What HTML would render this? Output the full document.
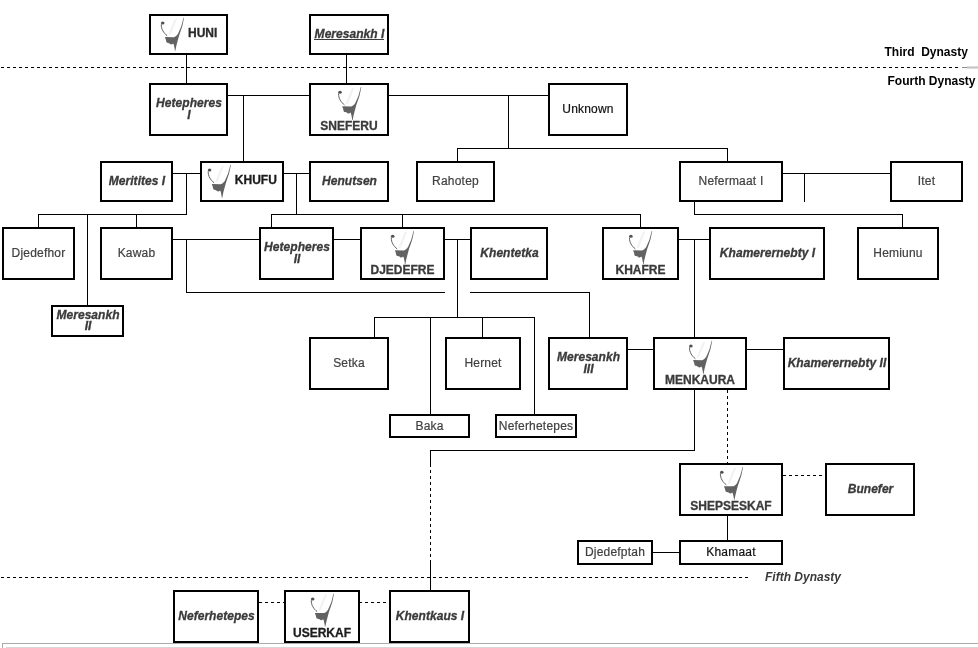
<!DOCTYPE html>
<html><head><meta charset="utf-8"><title>Fourth Dynasty family tree</title>
<style>
html,body{margin:0;padding:0;background:#fff;width:978px;height:648px;overflow:hidden}
svg{display:block;font-family:"Liberation Sans",sans-serif;will-change:transform}
</style></head><body>
<svg width="978" height="648" viewBox="0 0 978 648" font-family="Liberation Sans, sans-serif" font-size="12">
<defs><symbol id="ic" viewBox="0 0 32 38" overflow="visible">
<path d="M19.6,4.6 L22.4,3.6 L16,19.8 L13.4,20 Z" fill="#f2f2f2"/>
<path d="M6.5,9.5 C6.3,14.5 9,18.3 12.4,21" fill="none" stroke="#505050" stroke-width="0.9"/>
<ellipse cx="7.9" cy="8.3" rx="1.8" ry="1.5" fill="#505050"/>
<path d="M10.1,22.3 L19.1,22.4 C20.6,22 22,21 23.2,19 L26.4,11.7 L28.7,3.0 L29.2,3.2 L27.4,11.7 L25.6,17 L24.2,21.1 L22.8,26.2 L21.5,31.3 L20.6,35.9 L20.1,35.9 L19.8,33.7 L19.1,30.3 L18.4,28.6 L17.7,29.1 L16.7,29.6 L15.7,29.4 L14.7,28.6 L13,28 L12.1,27.9 L11.6,27.2 L11,24.8 Z" fill="#626262"/>
</symbol>
<linearGradient id="fade" x1="0" x2="1" y1="0" y2="0"><stop offset="0" stop-color="#888" stop-opacity="0"/><stop offset="0.5" stop-color="#999"/><stop offset="1" stop-color="#ccc"/></linearGradient>
</defs>
<style>.b{fill:#fff;stroke:#000;stroke-width:2}</style>
<path d="M186.5,55V83 M346.5,55V83 M228,95.5H309 M389,95.5H548 M243.5,95V161 M508.5,95V148 M457,148.5H728 M457.5,148V161 M727.5,148V161 M173,173.5H200 M186.5,173V215 M38,214.5H187 M38.5,214V227 M87.5,214V305 M136.5,214V227 M284,173.5H309 M296.5,173V215 M271,214.5H641 M271.5,214V227 M402.5,214V227 M640.5,214V227 M173,239.5H259 M186.5,239V293 M186,292.5H445 M470,292.5H590 M589.5,292V337 M334,239.5H360 M445,239.5H470 M457.5,239V318 M374,317.5H535 M374.5,317V337 M430.5,317V414 M482.5,317V337 M534.5,317V414 M783,173.5H890 M804.5,173V202 M694.5,202V214 M694,214.5H903 M902.5,214V227 M679,239.5H709 M694.5,239V337 M628,349.5H653 M747,349.5H783 M694.5,390V451 M430,450.5H695 M430.5,450V467 M430.5,563V590 M727.5,516V540 M653,552.5H679" stroke="#000" stroke-width="1" fill="none" shape-rendering="crispEdges"/>
<path d="M1,67.5H960 M1,577.5H748 M727.5,390V463 M430.5,470V563 M783,475.5H825 M259,602.5H284 M359,602.5H389" stroke="#000" stroke-width="1" fill="none" stroke-dasharray="3 3" shape-rendering="crispEdges"/>
<rect x="962" y="67" width="5" height="1" fill="#8a8a8a"/>
<rect x="967" y="66" width="11" height="3" fill="#ddd"/>
<rect x="967" y="67" width="11" height="1" fill="#c4c4c4"/>
<rect x="150" y="15" width="77" height="39" class="b"/>
<use href="#ic" x="154.8" y="14.8" width="32" height="38"/>
<text x="188" y="36.9" font-weight="bold" fill="#2a2a2a" stroke="#2a2a2a" stroke-width="0.3">HUNI</text>
<rect x="310" y="15" width="78" height="39" class="b"/>
<text x="349.5" y="38.1" text-anchor="middle" font-weight="bold" font-style="italic" fill="#3a3a3a" stroke="#3a3a3a" stroke-width="0.3" letter-spacing="0.04">Meresankh I</text>
<rect x="314" y="39" width="70" height="1" fill="#3a3a3a"/>
<rect x="150" y="84" width="77" height="51" class="b"/>
<text x="189.0" y="107.0" text-anchor="middle" font-weight="bold" font-style="italic" fill="#3a3a3a" stroke="#3a3a3a" stroke-width="0.3" letter-spacing="0.04">Hetepheres</text>
<text x="189.0" y="118.9" text-anchor="middle" font-weight="bold" font-style="italic" fill="#3a3a3a" stroke="#3a3a3a" stroke-width="0.3" letter-spacing="0.04">I</text>
<rect x="310" y="84" width="78" height="51" class="b"/>
<use href="#ic" x="332.1" y="84.0" width="32" height="38"/>
<text x="349.0" y="130.3" text-anchor="middle" font-weight="bold" fill="#3a3a3a" stroke="#3a3a3a" stroke-width="0.3">SNEFERU</text>
<rect x="549" y="84" width="78" height="51" class="b"/>
<text x="588.0" y="113.1" text-anchor="middle" fill="#111" stroke="#111" stroke-width="0.2" letter-spacing="0.2">Unknown</text>
<rect x="101" y="162" width="71" height="39" class="b"/>
<text x="137.0" y="185.1" text-anchor="middle" font-weight="bold" font-style="italic" fill="#3a3a3a" stroke="#3a3a3a" stroke-width="0.3" letter-spacing="0.04">Meritites I</text>
<rect x="201" y="162" width="82" height="39" class="b"/>
<use href="#ic" x="201.7" y="161.8" width="32" height="38"/>
<text x="234.8" y="183.9" font-weight="bold" fill="#1c1c1c" stroke="#1c1c1c" stroke-width="0.3">KHUFU</text>
<rect x="310" y="162" width="78" height="39" class="b"/>
<text x="349.5" y="185.1" text-anchor="middle" font-weight="bold" font-style="italic" fill="#3a3a3a" stroke="#3a3a3a" stroke-width="0.3" letter-spacing="0.04">Henutsen</text>
<rect x="417" y="162" width="77" height="39" class="b"/>
<text x="455.5" y="185.1" text-anchor="middle" fill="#404040" stroke="#404040" stroke-width="0.2" letter-spacing="0.2">Rahotep</text>
<rect x="680" y="162" width="102" height="39" class="b"/>
<text x="731.0" y="185.1" text-anchor="middle" fill="#404040" stroke="#404040" stroke-width="0.2" letter-spacing="0.2">Nefermaat I</text>
<rect x="891" y="162" width="71" height="39" class="b"/>
<text x="926.5" y="185.1" text-anchor="middle" fill="#404040" stroke="#404040" stroke-width="0.2" letter-spacing="0.2">Itet</text>
<rect x="3" y="228" width="71" height="51" class="b"/>
<text x="38.5" y="257.1" text-anchor="middle" fill="#404040" stroke="#404040" stroke-width="0.2" letter-spacing="0.2">Djedefhor</text>
<rect x="101" y="228" width="71" height="51" class="b"/>
<text x="136.5" y="257.1" text-anchor="middle" fill="#404040" stroke="#404040" stroke-width="0.2" letter-spacing="0.2">Kawab</text>
<rect x="260" y="228" width="73" height="51" class="b"/>
<text x="297.0" y="251.0" text-anchor="middle" font-weight="bold" font-style="italic" fill="#3a3a3a" stroke="#3a3a3a" stroke-width="0.3" letter-spacing="0.04">Hetepheres</text>
<text x="297.0" y="262.9" text-anchor="middle" font-weight="bold" font-style="italic" fill="#3a3a3a" stroke="#3a3a3a" stroke-width="0.3" letter-spacing="0.04">II</text>
<rect x="361" y="228" width="83" height="51" class="b"/>
<use href="#ic" x="384.8" y="228.0" width="32" height="38"/>
<text x="402.5" y="274.3" text-anchor="middle" font-weight="bold" fill="#3a3a3a" stroke="#3a3a3a" stroke-width="0.3">DJEDEFRE</text>
<rect x="471" y="228" width="76" height="51" class="b"/>
<text x="509.5" y="257.1" text-anchor="middle" font-weight="bold" font-style="italic" fill="#3a3a3a" stroke="#3a3a3a" stroke-width="0.3" letter-spacing="0.04">Khentetka</text>
<rect x="603" y="228" width="75" height="51" class="b"/>
<use href="#ic" x="623.0" y="228.0" width="32" height="38"/>
<text x="640.5" y="274.3" text-anchor="middle" font-weight="bold" fill="#3a3a3a" stroke="#3a3a3a" stroke-width="0.3">KHAFRE</text>
<rect x="710" y="228" width="114" height="51" class="b"/>
<text x="767.5" y="257.1" text-anchor="middle" font-weight="bold" font-style="italic" fill="#3a3a3a" stroke="#3a3a3a" stroke-width="0.3" letter-spacing="0.04">Khamerernebty I</text>
<rect x="858" y="228" width="80" height="51" class="b"/>
<text x="898.0" y="257.1" text-anchor="middle" fill="#404040" stroke="#404040" stroke-width="0.2" letter-spacing="0.2">Hemiunu</text>
<rect x="52" y="306" width="71" height="30" class="b"/>
<text x="88.0" y="318.5" text-anchor="middle" font-weight="bold" font-style="italic" fill="#3a3a3a" stroke="#3a3a3a" stroke-width="0.3" letter-spacing="0.04">Meresankh</text>
<text x="88.0" y="330.4" text-anchor="middle" font-weight="bold" font-style="italic" fill="#3a3a3a" stroke="#3a3a3a" stroke-width="0.3" letter-spacing="0.04">II</text>
<rect x="310" y="338" width="78" height="51" class="b"/>
<text x="349.0" y="367.1" text-anchor="middle" fill="#404040" stroke="#404040" stroke-width="0.2" letter-spacing="0.2">Setka</text>
<rect x="446" y="338" width="74" height="51" class="b"/>
<text x="483.0" y="367.1" text-anchor="middle" fill="#404040" stroke="#404040" stroke-width="0.2" letter-spacing="0.2">Hernet</text>
<rect x="549" y="338" width="78" height="51" class="b"/>
<text x="588.5" y="361.0" text-anchor="middle" font-weight="bold" font-style="italic" fill="#3a3a3a" stroke="#3a3a3a" stroke-width="0.3" letter-spacing="0.04">Meresankh</text>
<text x="588.5" y="372.9" text-anchor="middle" font-weight="bold" font-style="italic" fill="#3a3a3a" stroke="#3a3a3a" stroke-width="0.3" letter-spacing="0.04">III</text>
<rect x="654" y="338" width="92" height="51" class="b"/>
<use href="#ic" x="683.0" y="337.8" width="32" height="38"/>
<text x="700.0" y="384.3" text-anchor="middle" font-weight="bold" fill="#3a3a3a" stroke="#3a3a3a" stroke-width="0.3">MENKAURA</text>
<rect x="784" y="338" width="105" height="51" class="b"/>
<text x="837.0" y="367.1" text-anchor="middle" font-weight="bold" font-style="italic" fill="#3a3a3a" stroke="#3a3a3a" stroke-width="0.3" letter-spacing="0.04">Khamerernebty II</text>
<rect x="390" y="415" width="79" height="22" class="b"/>
<text x="429.5" y="429.6" text-anchor="middle" fill="#404040" stroke="#404040" stroke-width="0.2" letter-spacing="0.2">Baka</text>
<rect x="496" y="415" width="80" height="22" class="b"/>
<text x="536.0" y="429.6" text-anchor="middle" fill="#404040" stroke="#404040" stroke-width="0.2" letter-spacing="0.2">Neferhetepes</text>
<rect x="680" y="464" width="102" height="51" class="b"/>
<use href="#ic" x="713.9" y="463.9" width="32" height="38"/>
<text x="731.0" y="510.3" text-anchor="middle" font-weight="bold" fill="#3a3a3a" stroke="#3a3a3a" stroke-width="0.3">SHEPSESKAF</text>
<rect x="826" y="464" width="88" height="51" class="b"/>
<text x="870.5" y="493.1" text-anchor="middle" font-weight="bold" font-style="italic" fill="#3a3a3a" stroke="#3a3a3a" stroke-width="0.3" letter-spacing="0.04">Bunefer</text>
<rect x="578" y="541" width="74" height="23" class="b"/>
<text x="615.0" y="556.1" text-anchor="middle" fill="#404040" stroke="#404040" stroke-width="0.2" letter-spacing="0.2">Djedefptah</text>
<rect x="680" y="541" width="102" height="23" class="b"/>
<text x="731.0" y="556.1" text-anchor="middle" fill="#111" stroke="#111" stroke-width="0.2" letter-spacing="0.2">Khamaat</text>
<rect x="174" y="591" width="84" height="51" class="b"/>
<text x="216.5" y="620.1" text-anchor="middle" font-weight="bold" font-style="italic" fill="#3a3a3a" stroke="#3a3a3a" stroke-width="0.3" letter-spacing="0.04">Neferhetepes</text>
<rect x="285" y="591" width="74" height="51" class="b"/>
<use href="#ic" x="304.8" y="590.7" width="32" height="38"/>
<text x="322.0" y="637.3" text-anchor="middle" font-weight="bold" fill="#1c1c1c" stroke="#1c1c1c" stroke-width="0.3">USERKAF</text>
<rect x="390" y="591" width="79" height="51" class="b"/>
<text x="430.0" y="620.1" text-anchor="middle" font-weight="bold" font-style="italic" fill="#3a3a3a" stroke="#3a3a3a" stroke-width="0.3" letter-spacing="0.04">Khentkaus I</text>

<text x="884.5" y="55.7" font-weight="bold" fill="#000" style="white-space:pre">Third  Dynasty</text>
<text x="887.5" y="85.4" font-weight="bold" fill="#000">Fourth Dynasty</text>
<text x="765" y="580.8" font-weight="bold" font-style="italic" fill="#3a3a3a">Fifth Dynasty</text>

<rect x="2.5" y="643.5" width="980" height="10" fill="none" stroke="#aaa" stroke-width="1"/>
<rect x="6" y="647" width="972" height="1" fill="#d8d8d8"/>
</svg>
</body></html>
